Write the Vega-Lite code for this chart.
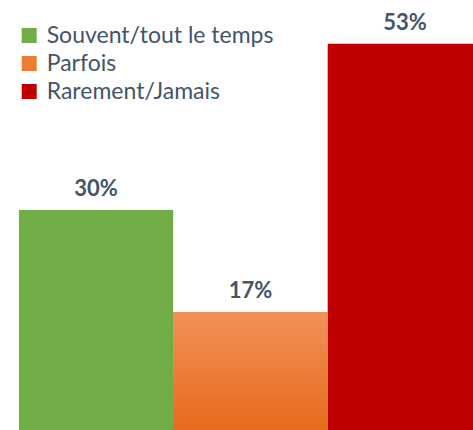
{
  "$schema": "https://vega.github.io/schema/vega-lite/v6.json",
  "width": 454.3,
  "height": 430,
  "autosize": {"type": "none"},
  "padding": {"left": 18.7, "top": 0, "right": 0, "bottom": 0},
  "background": "white",
  "config": {"view": {"stroke": null}},
  "data": {"values": [
    {"cat": "Souvent/tout le temps", "value": 30.2, "label": "30%"},
    {"cat": "Parfois", "value": 16.2, "label": "17%"},
    {"cat": "Rarement/Jamais", "value": 53, "label": "53%"}
  ]},
  "encoding": {
    "x": {"field": "cat", "type": "nominal", "sort": null, "axis": null,
          "scale": {"paddingInner": 0, "paddingOuter": 0, "range": [0, 463.5]}},
    "y": {"field": "value", "type": "quantitative", "axis": null,
          "scale": {"domain": [0, 59], "nice": false, "zero": true}}
  },
  "layer": [
    {
      "mark": {"type": "bar", "clip": true},
      "encoding": {
        "color": {"field": "cat", "type": "nominal", "sort": null,
          "scale": {"domain": ["Souvent/tout le temps", "Parfois", "Rarement/Jamais"],
                    "range": ["#70AD47", "#ED7D31", "#C00000"]},
          "legend": {"title": null, "orient": "none", "legendX": -1, "legendY": 24,
                     "symbolType": "square", "symbolSize": 225, "symbolStrokeWidth": 0,
                     "labelFont": "Lato", "labelFontSize": 23, "labelColor": "#44546A",
                     "rowPadding": 4, "labelOffset": 6, "labelLimit": 400}
        }
      }
    },
    {
      "transform": [{"filter": "datum.cat === 'Parfois'"}],
      "mark": {"type": "bar", "clip": true,
        "color": {"gradient": "linear", "x1": 0, "y1": 0, "x2": 0, "y2": 1,
          "stops": [{"offset": 0, "color": "#F19159"}, {"offset": 1, "color": "#E66B1B"}]}}
    },
    {
      "mark": {"type": "text", "baseline": "alphabetic", "dy": -14, "fontWeight": "bold",
               "font": "Lato", "fontSize": 22, "color": "#44546A", "clip": false},
      "encoding": {"text": {"field": "label"}}
    }
  ]
}
